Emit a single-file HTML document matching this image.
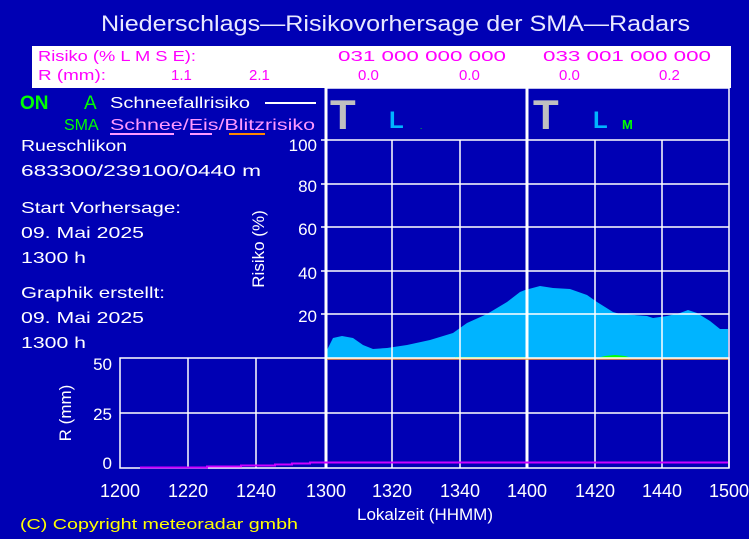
<!DOCTYPE html>
<html><head><meta charset="utf-8"><style>
html,body{margin:0;padding:0;background:#0000b4;}
svg{display:block;}
text{font-family:"Liberation Sans",sans-serif;}
</style></head><body>
<svg width="749" height="539" viewBox="0 0 749 539" xmlns="http://www.w3.org/2000/svg">
<rect width="749" height="539" fill="#0000b4"/>
<text x="101" y="31" font-size="22" fill="#e8e8ff" textLength="589" lengthAdjust="spacingAndGlyphs">Niederschlags—Risikovorhersage der SMA—Radars</text>
<rect x="32" y="46" width="699" height="42" fill="#fff"/>
<g font-size="15" fill="#ff00ff">
<text x="38" y="61" textLength="158" lengthAdjust="spacingAndGlyphs">Risiko (% L M S E):</text>
<text x="338" y="61" textLength="168" lengthAdjust="spacingAndGlyphs">031  000  000  000</text>
<text x="543" y="61" textLength="168" lengthAdjust="spacingAndGlyphs">033  001  000  000</text>
<text x="38" y="80" textLength="68" lengthAdjust="spacingAndGlyphs">R (mm):</text>
<text x="171" y="80">1.1</text><text x="249" y="80">2.1</text>
<text x="358" y="80">0.0</text><text x="459" y="80">0.0</text>
<text x="559" y="80">0.0</text><text x="659" y="80">0.2</text>
</g>
<!-- legend -->
<text x="20" y="109" font-size="19" font-weight="bold" fill="#00ff00">ON</text>
<text x="84" y="109" font-size="19" fill="#00ff00">A</text>
<text x="110" y="108" font-size="16" fill="#fff" textLength="140" lengthAdjust="spacingAndGlyphs">Schneefallrisiko</text>
<line x1="265" y1="103" x2="316" y2="103" stroke="#fff" stroke-width="2"/>
<text x="64" y="130" font-size="16" fill="#00ff00">SMA</text>
<text x="110" y="130" font-size="16" fill="#ff99ff" textLength="205" lengthAdjust="spacingAndGlyphs">Schnee/Eis/Blitzrisiko</text>
<line x1="110" y1="134" x2="174" y2="134" stroke="#ff99ff" stroke-width="2"/>
<line x1="190" y1="134" x2="212" y2="134" stroke="#ff99ff" stroke-width="2"/>
<line x1="229" y1="134" x2="265" y2="134" stroke="#ff8800" stroke-width="2"/>
<g font-size="16" fill="#fff">
<text x="21" y="151" textLength="106" lengthAdjust="spacingAndGlyphs">Rueschlikon</text>
<text x="21" y="176" textLength="240" lengthAdjust="spacingAndGlyphs">683300/239100/0440 m</text>
<text x="21" y="213" textLength="160" lengthAdjust="spacingAndGlyphs">Start Vorhersage:</text>
<text x="21" y="238" textLength="123" lengthAdjust="spacingAndGlyphs">09. Mai 2025</text>
<text x="21" y="263" textLength="65" lengthAdjust="spacingAndGlyphs">1300 h</text>
<text x="21" y="298" textLength="144" lengthAdjust="spacingAndGlyphs">Graphik erstellt:</text>
<text x="21" y="323" textLength="123" lengthAdjust="spacingAndGlyphs">09. Mai 2025</text>
<text x="21" y="348" textLength="65" lengthAdjust="spacingAndGlyphs">1300 h</text>
</g>
<g font-size="17" fill="#fff" text-anchor="end">
<text x="317" y="151">100</text><text x="317" y="192">80</text><text x="317" y="235">60</text>
<text x="317" y="279">40</text><text x="317" y="322">20</text>
<text x="112" y="370">50</text><text x="112" y="420">25</text><text x="112" y="469">0</text>
</g>
<text transform="translate(264,249) rotate(-90)" font-size="17" fill="#fff" text-anchor="middle">Risiko (%)</text>
<text transform="translate(71,413) rotate(-90)" font-size="17" fill="#fff" text-anchor="middle">R (mm)</text>
<!-- T L labels -->
<text x="330" y="129" font-size="42" font-weight="bold" fill="#c0c0c0">T</text>
<text x="389" y="128" font-size="24" font-weight="bold" fill="#00b4ff">L</text>
<text x="420" y="129" font-size="8" fill="#00ff00">.</text>
<text x="533" y="129" font-size="42" font-weight="bold" fill="#c0c0c0">T</text>
<text x="593" y="128" font-size="24" font-weight="bold" fill="#00b4ff">L</text>
<text x="622" y="129" font-size="13" font-weight="bold" fill="#00ff00">M</text>
<!-- area -->
<path d="M326,358 L327,350 333,338 342,336 353,338 363,345 373,349 387,348 407,345 430,340 453,333 467,323 487,314 507,302 520,292 525,290 540,286 553,288 570,289 587,295 597,302 613,312 620,314 647,316 653,318 667,316 680,313 688,310 697,313 710,321 720,329 728,329 728,358 Z" fill="#00b4ff"/>
<path d="M455,358 L455,357 525,357 525,358Z M597,358 L605,356 615,355 625,356 632,358Z" fill="#00ff00"/>
<!-- top grid -->
<g stroke="#fff" stroke-width="1.5">
<line x1="326" y1="140" x2="729" y2="140"/><line x1="326" y1="184" x2="729" y2="184"/>
<line x1="326" y1="227" x2="729" y2="227"/><line x1="326" y1="271" x2="729" y2="271"/>
<line x1="326" y1="314" x2="729" y2="314"/>
<line x1="392" y1="140" x2="392" y2="358"/><line x1="460" y1="140" x2="460" y2="358"/>
<line x1="595" y1="140" x2="595" y2="358"/><line x1="662" y1="140" x2="662" y2="358"/>
<line x1="729" y1="88" x2="729" y2="468"/>
<line x1="321" y1="140" x2="326" y2="140"/><line x1="321" y1="184" x2="326" y2="184"/>
<line x1="321" y1="227" x2="326" y2="227"/><line x1="321" y1="271" x2="326" y2="271"/>
<line x1="321" y1="314" x2="326" y2="314"/>
<line x1="325" y1="88" x2="729" y2="88"/>
</g>
<line x1="326" y1="88" x2="326" y2="468" stroke="#fff" stroke-width="3"/>
<line x1="527" y1="88" x2="527" y2="468" stroke="#fff" stroke-width="3"/>
<line x1="327" y1="359" x2="728" y2="359" stroke="#ff9933" stroke-width="1.5"/>
<!-- bottom grid -->
<g stroke="#fff" stroke-width="1.5" fill="none">
<rect x="120" y="358" width="609" height="110"/>
<line x1="120" y1="413" x2="729" y2="413"/>
<line x1="188" y1="358" x2="188" y2="468"/><line x1="256" y1="358" x2="256" y2="468"/>
<line x1="392" y1="358" x2="392" y2="468"/><line x1="460" y1="358" x2="460" y2="468"/>
<line x1="595" y1="358" x2="595" y2="468"/><line x1="662" y1="358" x2="662" y2="468"/>
</g>
<path d="M140,467.5 H207 V466.5 H241 V465.5 H275 V464.5 H292 V463.5 H310 V462.5 H728" stroke="#cc00ff" stroke-width="2" fill="none"/>
<g font-size="18" fill="#fff" text-anchor="middle">
<text x="120" y="497">1200</text><text x="188" y="497">1220</text><text x="256" y="497">1240</text>
<text x="326" y="497">1300</text><text x="392" y="497">1320</text><text x="460" y="497">1340</text>
<text x="527" y="497">1400</text><text x="595" y="497">1420</text><text x="662" y="497">1440</text>
<text x="729" y="497">1500</text>
<text x="425" y="520" font-size="17">Lokalzeit (HHMM)</text>
</g>
<text x="20" y="529" font-size="15" fill="#ffff00" textLength="278" lengthAdjust="spacingAndGlyphs">(C) Copyright meteoradar gmbh</text>
</svg>
</body></html>
